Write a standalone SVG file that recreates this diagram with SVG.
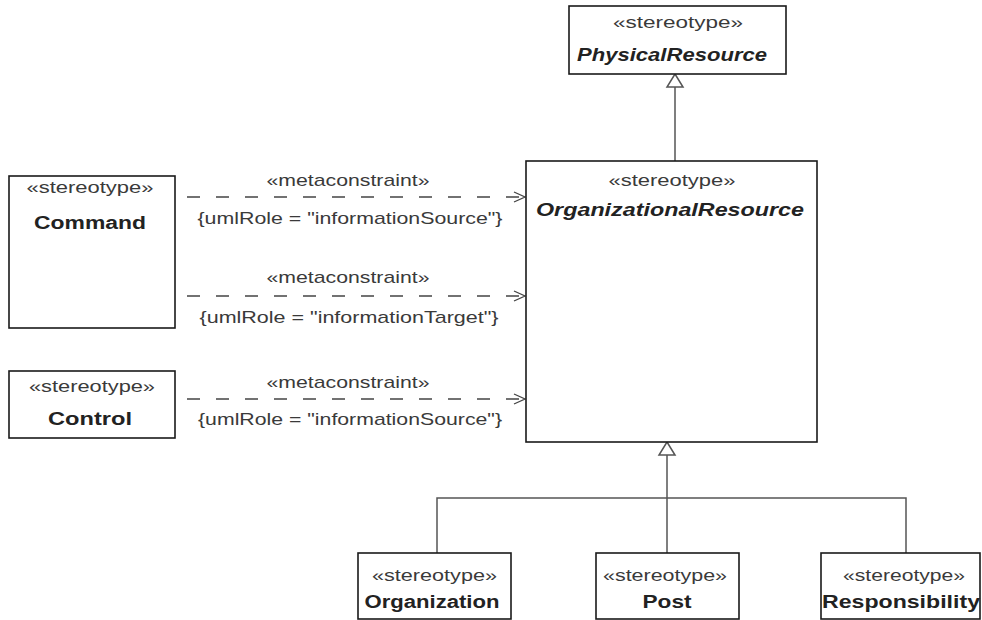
<svg xmlns="http://www.w3.org/2000/svg" width="982" height="620" viewBox="0 0 982 620">
<style>
.box{fill:#fff;stroke:#1a1a1a;stroke-width:1.6}
text{font-family:"Liberation Sans",Arial,sans-serif;text-anchor:middle}
.st{font-size:17px;fill:#3a3a3a}
.nm{font-size:18px;font-weight:bold;fill:#222}
.it{font-style:italic}
.lbl{font-size:17px;fill:#3a3a3a}
.dash{stroke:#444;stroke-width:1.3;fill:none;stroke-dasharray:13 16}
.gen{stroke:#555;stroke-width:1.5;fill:none}
.tri{fill:#fff;stroke:#555;stroke-width:1.5}
</style>
<defs>
<marker id="open" markerUnits="userSpaceOnUse" markerWidth="14" markerHeight="14" viewBox="-12 -7 14 14" refX="0" refY="0" orient="auto">
<path d="M-11,-5 L0,0 L-11,5" fill="none" stroke="#444" stroke-width="1.3"/>
</marker>
</defs>
<g id="connectors">
<line class="dash" x1="187" y1="197" x2="525" y2="197" marker-end="url(#open)"/>
<text class="lbl" x="348" y="186" textLength="163" lengthAdjust="spacingAndGlyphs">«metaconstraint»</text>
<text class="lbl" x="350" y="224" textLength="305" lengthAdjust="spacingAndGlyphs">{umlRole = "informationSource"}</text>
<line class="dash" x1="187" y1="296" x2="525" y2="296" marker-end="url(#open)"/>
<text class="lbl" x="348" y="283" textLength="163" lengthAdjust="spacingAndGlyphs">«metaconstraint»</text>
<text class="lbl" x="349" y="323" textLength="299" lengthAdjust="spacingAndGlyphs">{umlRole = "informationTarget"}</text>
<line class="dash" x1="187" y1="399" x2="525" y2="399" marker-end="url(#open)"/>
<text class="lbl" x="348" y="388" textLength="163" lengthAdjust="spacingAndGlyphs">«metaconstraint»</text>
<text class="lbl" x="350" y="425" textLength="304" lengthAdjust="spacingAndGlyphs">{umlRole = "informationSource"}</text>
<line class="gen" x1="675" y1="87" x2="675" y2="161"/>
<path class="tri" d="M675,74 L683,87 L667,87 Z"/>
<path class="gen" d="M437,553 V498 H906 V553 M667,553 V455"/>
<path class="tri" d="M667,442 L675,455 L659,455 Z"/>
</g>
<g id="PhysicalResource">
<rect class="box" x="569" y="6" width="217" height="68"/>
<text class="st" x="678" y="28" textLength="130" lengthAdjust="spacingAndGlyphs">«stereotype»</text>
<text class="nm it" x="672" y="61" textLength="190" lengthAdjust="spacingAndGlyphs">PhysicalResource</text>
</g>
<g id="OrganizationalResource">
<rect class="box" x="526" y="161" width="291" height="281"/>
<text class="st" x="672" y="186" textLength="127" lengthAdjust="spacingAndGlyphs">«stereotype»</text>
<text class="nm it" x="670" y="216" textLength="268" lengthAdjust="spacingAndGlyphs">OrganizationalResource</text>
</g>
<g id="Command">
<rect class="box" x="9" y="176" width="166" height="152"/>
<text class="st" x="90" y="193" textLength="127" lengthAdjust="spacingAndGlyphs">«stereotype»</text>
<text class="nm" x="90" y="229" textLength="112" lengthAdjust="spacingAndGlyphs">Command</text>
</g>
<g id="Control">
<rect class="box" x="9" y="371" width="166" height="67"/>
<text class="st" x="92" y="392" textLength="126" lengthAdjust="spacingAndGlyphs">«stereotype»</text>
<text class="nm" x="90" y="425" textLength="84" lengthAdjust="spacingAndGlyphs">Control</text>
</g>
<g id="Organization">
<rect class="box" x="358" y="553" width="153" height="66"/>
<text class="st" x="434.5" y="581" textLength="125" lengthAdjust="spacingAndGlyphs">«stereotype»</text>
<text class="nm" x="432" y="608" textLength="135" lengthAdjust="spacingAndGlyphs">Organization</text>
</g>
<g id="Post">
<rect class="box" x="596" y="553" width="143" height="66"/>
<text class="st" x="665" y="581" textLength="124" lengthAdjust="spacingAndGlyphs">«stereotype»</text>
<text class="nm" x="667" y="608" textLength="49" lengthAdjust="spacingAndGlyphs">Post</text>
</g>
<g id="Responsibility">
<rect class="box" x="821" y="553" width="159" height="66"/>
<text class="st" x="904" y="581" textLength="122" lengthAdjust="spacingAndGlyphs">«stereotype»</text>
<text class="nm" x="901" y="608" textLength="158" lengthAdjust="spacingAndGlyphs">Responsibility</text>
</g>
</svg>
